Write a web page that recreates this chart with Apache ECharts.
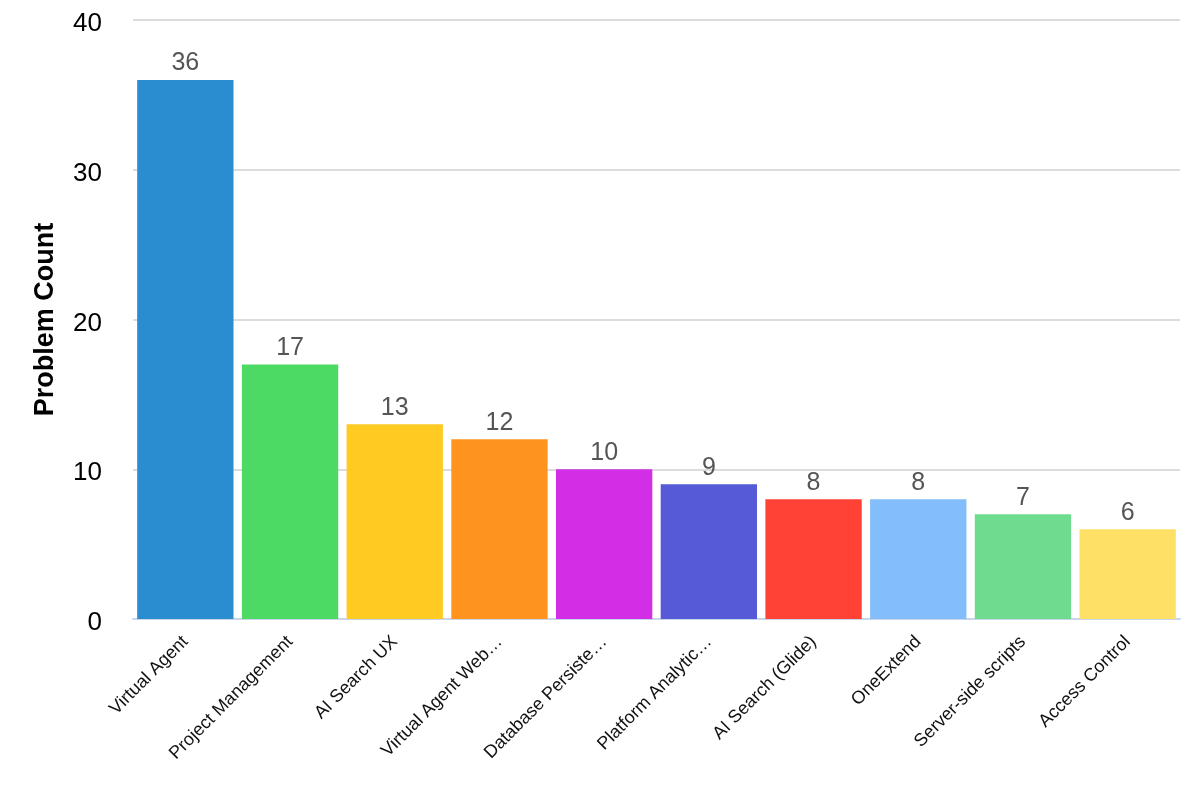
<!DOCTYPE html>
<html><head><meta charset="utf-8">
<script src="https://cdn.jsdelivr.net/npm/echarts@6/dist/echarts.min.js"></script>
<style>html,body{margin:0;padding:0;background:#fff}#c{width:1200px;height:800px}</style>
</head><body><div id="c"></div>
<script>
const categories = ["Virtual Agent","Project Management","AI Search UX","Virtual Agent Web…","Database Persiste…","Platform Analytic…","AI Search (Glide)","OneExtend","Server-side scripts","Access Control"];
const problemCounts = [36,17,13,12,10,9,8,8,7,6];
const barColors = ["#2a8dd0","#4cd964","#ffca22","#ff9320","#d22ee6","#575ad6","#ff4136","#84bdfc","#6fdb8f","#ffe066"];
const yTicks = {min:0,max:40,interval:10};
const yAxisName = "Problem Count";

const FONT = '"Liberation Sans", Arial, sans-serif';
const chart = echarts.init(document.getElementById('c'));
chart.setOption({
  animation:false,
  textStyle:{fontFamily:FONT},
  grid:{left:133,right:20,top:20,bottom:181},
  xAxis:{type:'category',data:categories,
    axisLine:{lineStyle:{color:'#c9d5e8',width:2}},
    axisTick:{show:false},
    axisLabel:{rotate:45,interval:0,color:'#111',fontSize:18,margin:20,fontFamily:FONT}},
  yAxis:{type:'value',min:yTicks.min,max:yTicks.max,interval:yTicks.interval,
    name:yAxisName,nameLocation:'middle',nameGap:74,
    nameTextStyle:{fontSize:27,fontWeight:'bold',color:'#000',fontFamily:FONT},
    axisLine:{show:false},axisTick:{show:false},
    axisLabel:{color:'#000',fontSize:26,margin:31,verticalAlign:'top',lineHeight:8,fontFamily:FONT},
    splitLine:{lineStyle:{color:'#d0d0d0',width:1.5}}},
  series:[{type:'bar',barCategoryGap:'8%',
    data:problemCounts.map((v,i)=>({value:v,itemStyle:{color:barColors[i]}})),
    label:{show:true,position:'top',distance:4,color:'#555',fontSize:25,fontFamily:FONT}}]
});
</script></body></html>
